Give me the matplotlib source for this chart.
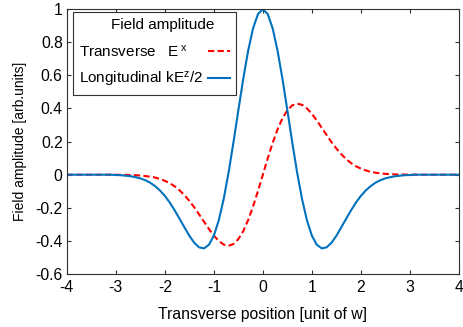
import numpy as np
import matplotlib
matplotlib.use('Agg')
import matplotlib.pyplot as plt

# sampling grid of the transverse position (unit of w)
x_pos = np.round(np.linspace(-4, 4, 81), 1)

# transverse field E^x
transverse = [
    0, 0, 0, 0, 0, 0, 0, 0, 0, 0,
    0.000, -0.001, -0.001, -0.002, -0.003, -0.005, -0.008, -0.012, -0.017, -0.026,
    -0.037, -0.051, -0.070, -0.094, -0.124, -0.158, -0.197, -0.240, -0.284, -0.328,
    -0.368, -0.400, -0.422, -0.429, -0.419, -0.389, -0.341, -0.274, -0.192, -0.099,
    0.000,
    0.099, 0.192, 0.274, 0.341, 0.389, 0.419, 0.429, 0.422, 0.400, 0.368,
    0.328, 0.284, 0.240, 0.197, 0.158, 0.124, 0.094, 0.070, 0.051, 0.037,
    0.026, 0.017, 0.012, 0.008, 0.005, 0.003, 0.002, 0.001, 0.001, 0.000,
    0, 0, 0, 0, 0, 0, 0, 0, 0, 0,
]

# longitudinal field kE^z/2
longitudinal = [
    0, 0, 0, 0, 0, 0, 0, 0, 0, 0,
    -0.002, -0.003, -0.006, -0.009, -0.015, -0.022, -0.033, -0.048, -0.069, -0.095,
    -0.128, -0.168, -0.215, -0.266, -0.318, -0.369, -0.411, -0.439, -0.445, -0.423,
    -0.368, -0.276, -0.148, 0.012, 0.195, 0.389, 0.579, 0.749, 0.884, 0.970,
    1.000,
    0.970, 0.884, 0.749, 0.579, 0.389, 0.195, 0.012, -0.148, -0.276, -0.368,
    -0.423, -0.445, -0.439, -0.411, -0.369, -0.318, -0.266, -0.215, -0.168, -0.128,
    -0.095, -0.069, -0.048, -0.033, -0.022, -0.015, -0.009, -0.006, -0.003, -0.002,
    0, 0, 0, 0, 0, 0, 0, 0, 0, 0,
]

x_ticks = [-4, -3, -2, -1, 0, 1, 2, 3, 4]
y_ticks = [-0.6, -0.4, -0.2, 0, 0.2, 0.4, 0.6, 0.8, 1]
y_tick_labels = ['-0.6', '-0.4', '-0.2', '0', '0.2', '0.4', '0.6', '0.8', '1']
x_tick_labels = ['-4', '-3', '-2', '-1', '0', '1', '2', '3', '4']

plt.rcParams['font.family'] = ['Liberation Sans', 'DejaVu Sans']
plt.rcParams['axes.unicode_minus'] = False

fig = plt.figure(figsize=(4.64, 3.27), dpi=100)
ax = fig.add_axes([0.144, 0.162, 0.845, 0.810])

ax.plot(x_pos, transverse, color='#ff0000', linestyle='--',
        linewidth=1.5, dashes=(3, 1.6),
        label='Transverse   $\\mathregular{E^{\\,x}}$')
ax.plot(x_pos, longitudinal, color='#0072bd', linewidth=1.5,
        label='Longitudinal k$\\mathregular{E^{z}}$/2')

ax.set_xlim(-4, 4)
ax.set_ylim(-0.6, 1)
ax.set_xticks(x_ticks)
ax.set_xticklabels(x_tick_labels)
ax.set_yticks(y_ticks)
ax.set_yticklabels(y_tick_labels)

ax.tick_params(direction='in', top=True, right=True, length=3,
               width=0.8, color='#303030', labelsize=11.3)
ax.tick_params(axis='x', pad=4)
ax.tick_params(axis='y', pad=3)
for s in ax.spines.values():
    s.set_color('#303030')
    s.set_linewidth(0.8)

ax.set_xlabel('Transverse position [unit of w]', fontsize=11.3, labelpad=9)
ax.set_ylabel('Field amplitude [arb.units]', fontsize=10, labelpad=6)

leg = ax.legend(loc='upper left', bbox_to_anchor=(0.0153, 0.989),
                borderaxespad=0, title='    Field amplitude', fontsize=11,
                title_fontsize=11, markerfirst=False, handlelength=1.45,
                handletextpad=0.33, labelspacing=0.72,
                fancybox=False, framealpha=1, edgecolor='#303030')
leg.get_frame().set_linewidth(0.8)

# text left aligned, handles right aligned (like the original legend):
# widen the gap in the shorter row so both rows have the same width
fig.canvas.draw()
r = fig.canvas.get_renderer()
w = [t.get_window_extent(r).width for t in leg.texts]
rows = leg._legend_handle_box.get_children()[0].get_children()
rows[0].sep += (w[1] - w[0]) * 72.0 / fig.dpi

fig.savefig('out.png', dpi=100)
